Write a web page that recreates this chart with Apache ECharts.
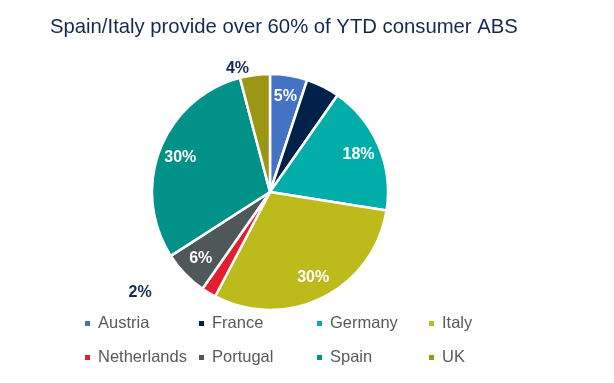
<!DOCTYPE html>
<html><head><meta charset="utf-8">
<script src="https://cdn.jsdelivr.net/npm/echarts@6/dist/echarts.min.js"></script>
<style>html,body{margin:0;padding:0;background:#fff}#c{width:614px;height:383px}</style>
</head><body><div id="c"></div>
<script>
const categories = ['Austria','France','Germany','Italy','Netherlands','Portugal','Spain','UK'];
const shares = [5.1, 4.6, 17.8, 30.2, 2.0, 6.2, 30.0, 4.1];
const colors = ['#4472C4','#00224A','#00ADA9','#BDBB1B','#E31E2E','#4F5859','#009288','#9C9614'];
const titleText = 'Spain/Italy provide over 60% of YTD consumer ABS';

const chart = echarts.init(document.getElementById('c'));
const center = [270, 192];
const R = 118;
const fmt = p => Math.round(p.percent) + '%';

const baseData = categories.map((n,i)=>({name:n, value:shares[i], itemStyle:{color:colors[i]}}));
const labelData = categories.map((n,i)=>{
  const o = {name:n, value:shares[i]};
  if (n === 'UK') { o.label = {position:'outside', color:'#14294F'}; o.labelLine = {length:6, length2:0}; }
  if (n === 'France') { o.label = {position:'outside', color:'#ffffff'}; o.labelLine = {length:6, length2:0}; }
  if (n === 'Netherlands') { o.label = {position:'outside', color:'#14294F'}; o.labelLine = {length:0, length2:52}; }
  return o;
});

const colX = [78, 192, 310, 422];
const rowY = [310, 344];
const legends = categories.map((n,i)=>({
  data:[n], left: colX[i%4], top: rowY[Math.floor(i/4)],
  itemWidth:7, itemHeight:7, icon:'rect', itemGap:0,
  textStyle:{fontFamily:'Liberation Sans', fontSize:16.5, color:'#595959', padding:[0,0,0,2]},
  selectedMode:false
}));

chart.setOption({
  animation:false,
  color: colors,
  title:{text:titleText, left:45, top:12,
    textStyle:{fontFamily:'Liberation Sans', fontWeight:'normal', fontSize:20.3, color:'#14294F'}},
  legend: legends,
  series:[
    {type:'pie', center:center, radius:[0,R], startAngle:90, clockwise:true,
     silent:true, label:{show:false}, labelLine:{show:false},
     itemStyle:{borderColor:'#fff', borderWidth:2.5},
     data: baseData},
    {type:'pie', center:center, radius:[R*0.58,R], startAngle:90, clockwise:true,
     silent:true, itemStyle:{color:'rgba(0,0,0,0)', borderWidth:0},
     label:{show:true, position:'inside', formatter:fmt,
       fontFamily:'Liberation Sans', fontWeight:'bold', fontSize:16, color:'#fff'},
     labelLine:{show:false},
     avoidLabelOverlap:false,
     data: labelData}
  ]
});
</script></body></html>
